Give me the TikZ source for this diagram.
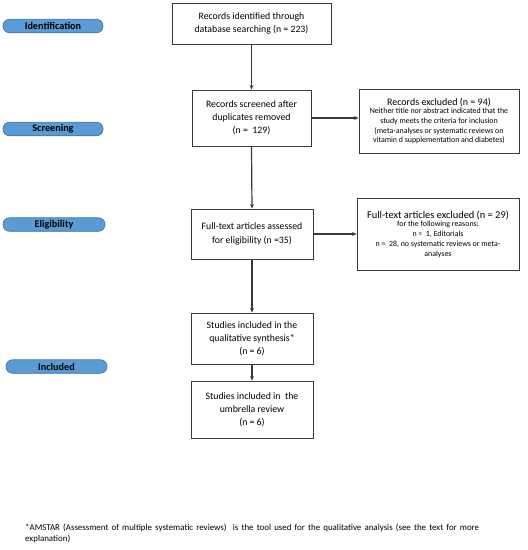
\documentclass[tikz,border=0pt]{standalone}
\usepackage{fontspec}
\setmainfont{Carlito}
\usetikzlibrary{arrows.meta}
\definecolor{pillfill}{HTML}{5B9BD5}
\definecolor{pilldraw}{HTML}{41719C}
\definecolor{linec}{HTML}{3A3A3A}
\begin{document}
\begin{tikzpicture}[x=1pt,y=-1pt,
  box/.style={draw=linec,line width=1pt,align=center,inner sep=2pt,font=\fontsize{9.8}{13.2}\selectfont},
  sidebox/.style={draw=linec,line width=1pt,align=center,inner sep=2pt,font=\fontsize{7.9}{9.7}\selectfont},
  pill/.style={draw=pilldraw,fill=pillfill,line width=0.6pt,rounded corners=6.5pt,minimum height=13.5pt,inner sep=0pt,font=\fontsize{10.2}{10}\selectfont\bfseries},
  arr/.style={draw=linec,line width=1.2pt,-{Stealth[length=4.5pt,width=4pt]}}]
\useasboundingbox (0,0) rectangle (528,550);
% stage pills
\node[pill,minimum width=100pt] (p1) at (53,26) {Identification};
\node[pill,minimum width=100pt] (p2) at (53,129) {Screening};
\node[pill,minimum width=102pt] (p3) at (54,224.5) {Eligibility};
\node[pill,minimum width=101pt] (p4) at (56.5,366.5) {Included};
% main boxes
\node[box,minimum width=159pt,minimum height=41pt] (b1) at (251.5,23.5) {Records identified through\\database searching (n = 223)};
\node[box,minimum width=119pt,minimum height=56pt] (b2) at (251.5,118) {Records screened after\\duplicates removed\\(n =\ \ 129)};
\node[box,minimum width=122pt,minimum height=50pt] (b3) at (252,234) {Full-text articles assessed\\for eligibility (n =35)};
\node[box,minimum width=122pt,minimum height=51pt] (b4) at (252,338.5) {Studies included in the\\qualitative synthesis*\\(n = 6)};
\node[box,minimum width=122pt,minimum height=57pt] (b5) at (252,409.5) {Studies included in\ \ the\\umbrella review\\(n = 6)};
% side boxes
\node[sidebox,minimum width=160pt,minimum height=64pt] (r1) at (439,121) {{\fontsize{10}{12}\selectfont Records excluded (n = 94)}\\[-1pt]Neither title nor abstract indicated that the\\study meets the criteria for inclusion\\(meta-analyses or systematic reviews on\\vitamin d supplementation and diabetes)};
\node[sidebox,minimum width=162pt,minimum height=72pt] (r2) at (438,234) {{\fontsize{10.4}{12}\selectfont Full-text articles excluded (n = 29)}\\[-1pt]for the following reasons:\\n =\ \ 1, Editorials\\n =\ \ 28, no systematic reviews or meta-\\analyses};
% connectors
\draw[arr] (b1.south) -- (b2.north);
\draw[arr] (b2.south) -- (b3.north);
\draw[arr] (b3.south) -- (b4.north);
\draw[arr] (b4.south) -- (b5.north);
\draw[arr] (b2.east) -- (b2.east -| r1.west);
\draw[arr] (b3.east) -- (b3.east -| r2.west);
% footnote
\node[anchor=north west,inner sep=0pt,text width=454pt,align=justify,font=\fontsize{8.9}{11}\selectfont] (fn) at (25,524) {*AMSTAR (Assessment of multiple systematic reviews)\ \ is the tool used for the qualitative analysis (see the text for more \mbox{explanation)}};
\end{tikzpicture}
\end{document}
